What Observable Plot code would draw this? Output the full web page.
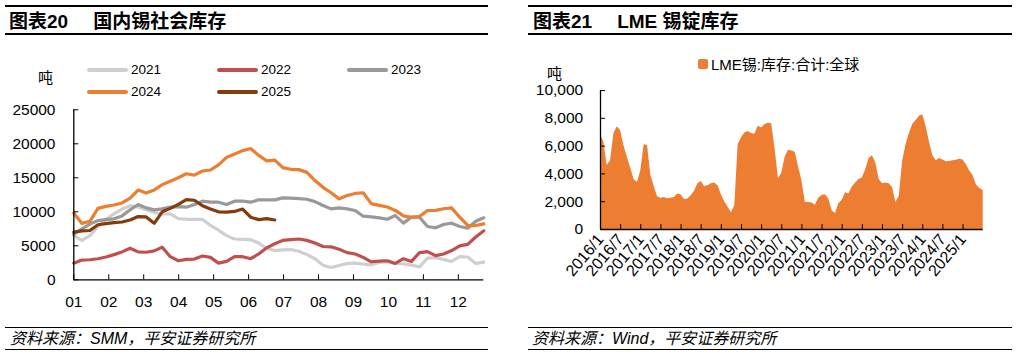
<!DOCTYPE html>
<html><head><meta charset="utf-8">
<script src="https://cdn.jsdelivr.net/npm/d3@7"></script>
<script src="https://cdn.jsdelivr.net/npm/@observablehq/plot@0.6"></script>
<style>
body{margin:0;background:#fff;}
#root{position:relative;width:1017px;height:356px;overflow:hidden;background:#fff;font-family:"Liberation Sans",Arial,"Noto Sans CJK SC",sans-serif;color:#000;}
.rule{position:absolute;background:#000;}
.abs{position:absolute;white-space:nowrap;}
.title{position:absolute;white-space:nowrap;font-weight:bold;font-size:19px;line-height:19px;}
.foot{position:absolute;white-space:nowrap;font-style:italic;font-size:16px;line-height:16px;}
.lg{position:absolute;height:4px;border-radius:2px;width:41px;}
.lgt{position:absolute;font-size:13.5px;line-height:14px;}
</style></head>
<body><div id="root"></div>
<script>
// ---------- data ----------
const monthLabels = ["01","02","03","04","05","06","07","08","09","10","11","12"];
const leftYTicks = [0,5000,10000,15000,20000,25000];
const seriesYears = ["2021","2022","2023","2024","2025"];
const y2021 = [6500,5800,6500,7800,8900,9700,10400,10900,10700,10300,
  9900,9700,9700,9000,8900,8900,8900,8000,7300,6500,
  6000,5950,5900,5400,4600,4300,4400,4450,4200,3700,
  3100,2150,1800,2100,2400,2450,2300,2200,2550,2650,
  2400,2350,2150,1900,3200,3250,3000,2700,3400,3350,
  2400,2600];
const y2022 = [2450,2900,2950,3100,3350,3700,4100,4650,4100,4050,
  4250,4800,3400,2800,3000,3050,3500,3300,2450,2700,
  3400,3400,3100,3800,4700,5300,5800,5900,6000,5800,
  5400,4900,4850,4500,4000,3800,3300,2650,2750,2800,
  2400,3100,2700,4000,4150,3550,3800,4300,5000,5200,
  6300,7200];
const y2023 = [6700,7500,8200,8700,8850,8960,9400,10290,11070,10580,
  10290,10430,10680,10770,10680,11070,11560,11410,11410,11070,
  11560,11560,11410,11760,11760,11760,12050,12000,11950,11850,
  11500,10920,10430,10580,10430,10190,9350,9260,9110,8910,
  9450,8330,9210,9210,7840,7640,8130,8330,7840,7590,
  8620,9110];
const y2024 = [9800,8300,8600,10500,10800,11000,11300,12000,13200,12750,
  13200,14000,14500,15000,15600,15400,16000,16150,16900,18000,
  18500,19000,19300,18300,17500,17600,16500,16250,16200,15800,
  14600,13600,12800,11900,12400,12700,12800,11200,10950,10700,
  10200,9400,9200,9300,10190,10200,10450,10580,9200,8000,
  7980,8230];
const y2025 = [7000,7200,7250,8100,8250,8400,8500,8800,9300,9250,
  8300,10000,10500,11100,11800,11700,10900,10400,10000,9950,
  10050,10400,9200,8850,9000,8800];

const lmeStock = [6830,6300,4600,4950,6900,7400,7100,6000,5200,4400,
  3600,3380,4200,6100,6050,3900,3100,2350,2250,2300,
  2220,2250,2310,2550,2500,2150,2200,2430,2750,3300,
  3450,3100,3150,3300,3350,3150,2500,2000,1600,1200,
  1700,6100,6600,6950,7050,6900,6850,7450,7300,7550,
  7650,7600,5800,3650,4050,5200,5700,5650,5550,4500,
  3500,1950,1950,1900,1750,2250,2450,2500,2200,1350,
  1150,1850,2100,2650,2550,3050,3350,3600,3700,4300,
  5100,5300,4800,3600,3300,3350,3300,3000,1950,2400,
  4900,6100,6900,7550,7850,8150,8250,7400,6300,5300,
  4950,5100,5000,4880,4900,4950,4980,5050,5000,4650,
  4200,3860,3200,2950,2800];
const lmeTickLabels = ["2016/1","2016/7","2017/1","2017/7","2018/1","2018/7","2019/1","2019/7",
  "2020/1","2020/7","2021/1","2021/7","2022/1","2022/7","2023/1","2023/7","2024/1","2024/7","2025/1"];
const lmeYTicks = [0,2000,4000,6000,8000,10000];

// ---------- styles ----------
const FONT = '"Liberation Sans", Arial, "Noto Sans CJK SC", sans-serif';
const seriesColors = ["#CFCFCF","#C0504D","#999999","#ED7D31","#843C0C"];
const series = [y2021,y2022,y2023,y2024,y2025];

const root = document.getElementById("root");
function add(html){ root.insertAdjacentHTML("beforeend", html); }

// frame rules, titles, footers
add('<div class="rule" style="left:5px;top:5px;width:483px;height:2px"></div>');
add('<div class="rule" style="left:5px;top:33px;width:483px;height:1.5px"></div>');
add('<div class="rule" style="left:528px;top:5px;width:484px;height:2px"></div>');
add('<div class="rule" style="left:528px;top:33px;width:484px;height:1.5px"></div>');
add('<div class="title" style="left:9px;top:12px">图表20<span style="margin-left:25px">国内锡社会库存</span></div>');
add('<div class="title" style="left:533px;top:12px">图表21<span style="margin-left:25px">LME 锡锭库存</span></div>');
add('<div class="rule" style="left:5px;top:326.5px;width:483px;height:1.5px"></div>');
add('<div class="rule" style="left:5px;top:348.5px;width:483px;height:1.5px"></div>');
add('<div class="rule" style="left:528px;top:326.5px;width:484px;height:1.5px"></div>');
add('<div class="rule" style="left:528px;top:348.5px;width:484px;height:1.5px"></div>');
add('<div class="foot" style="left:10px;top:331px">资料来源：SMM，平安证券研究所</div>');
add('<div class="foot" style="left:532px;top:331px">资料来源：Wind，平安证券研究所</div>');

// left legend + unit
add('<div class="abs" style="left:38px;top:70px;font-size:15px;line-height:15px">吨</div>');
const legendPos = [[87,68],[217,68],[347,68],[87,90],[217,90]];
seriesYears.forEach((yr,k)=>{
  const [lx,ly] = legendPos[k];
  add(`<div class="lg" style="left:${lx}px;top:${ly}px;background:${seriesColors[k]}"></div>`);
  add(`<div class="lgt" style="left:${lx+44}px;top:${ly-5}px">${yr}</div>`);
});

// right legend + unit
add('<div class="abs" style="left:547px;top:66px;font-size:15px;line-height:15px">吨</div>');
add('<div class="abs" style="left:698px;top:59px;width:10px;height:10px;border-radius:2px;background:#ED7D31"></div>');
add('<div class="abs" style="left:711px;top:56.5px;font-size:15px;line-height:15px">LME锡:库存:合计:全球</div>');

// ---------- left chart ----------
const weekStep = 7/30.44;
const toRows = arr => arr.map((v,i)=>({m: 1 + i*weekStep, v}));
const leftPlot = Plot.plot({
  width: 490, height: 230,
  marginLeft: 73.3, marginRight: 6.7, marginTop: 19.3, marginBottom: 40.7,
  style: {fontFamily: FONT, fontSize: "15.5px", color: "#000", background: "transparent", overflow: "visible"},
  x: {type: "linear", domain: [1, 1 + 51*weekStep], label: null},
  y: {domain: [0, 25000], label: null},
  marks: [
    ...series.map((s,k)=>Plot.line(toRows(s), {x: "m", y: "v", stroke: seriesColors[k], strokeWidth: 3.2, strokeLinejoin: "round", strokeLinecap: "round"})),
    Plot.ruleX([1], {stroke: "#000", strokeWidth: 1.3}),
    Plot.ruleY([0], {stroke: "#000", strokeWidth: 1.3}),
    Plot.axisX({ticks: monthLabels.map((_,i)=>i+1), tickFormat: d => monthLabels[d-1], tickSize: -5, tickPadding: 20.7, label: null, stroke: "#000"}),
    Plot.axisY({ticks: leftYTicks, tickFormat: d => String(d), tickSize: -5, tickPadding: 23.3, label: null, stroke: "#000"})
  ]
});
const lw = document.createElement("div");
lw.style.cssText = "position:absolute;left:0;top:90px;";
lw.appendChild(leftPlot);
root.appendChild(lw);

// ---------- right chart ----------
const lmeRows = lmeStock.map((v,i)=>({i, v}));
const rightPlot = Plot.plot({
  width: 497, height: 209,
  marginLeft: 80, marginRight: 34.3, marginTop: 10, marginBottom: 60,
  style: {fontFamily: FONT, fontSize: "15.5px", color: "#000", background: "transparent", overflow: "visible"},
  x: {type: "linear", domain: [0, lmeStock.length - 1], label: null},
  y: {domain: [0, 10000], label: null},
  marks: [
    Plot.areaY(lmeRows, {x: "i", y: "v", fill: "#ED7D31", curve: "linear"}),
    Plot.ruleX([0], {stroke: "#000", strokeWidth: 1.3}),
    Plot.ruleY([0], {stroke: "#000", strokeWidth: 1.3}),
    Plot.axisY({ticks: lmeYTicks, tickFormat: d3.format(","), tickSize: -5, tickPadding: 22.3, label: null, stroke: "#000"}),
    Plot.axisX({ticks: lmeTickLabels.map((_,k)=>k*6), tickFormat: null, text: null, tickSize: -5, label: null, stroke: "#000"}),
    Plot.axisX({ticks: lmeTickLabels.map((_,k)=>k*6), tickFormat: d => lmeTickLabels[d/6], tickRotate: -50, tickSize: 0, tickPadding: 7, label: null, fontSize: 16})
  ]
});
const rw = document.createElement("div");
rw.style.cssText = "position:absolute;left:520px;top:80px;";
rw.appendChild(rightPlot);
root.appendChild(rw);
</script>
</body></html>
